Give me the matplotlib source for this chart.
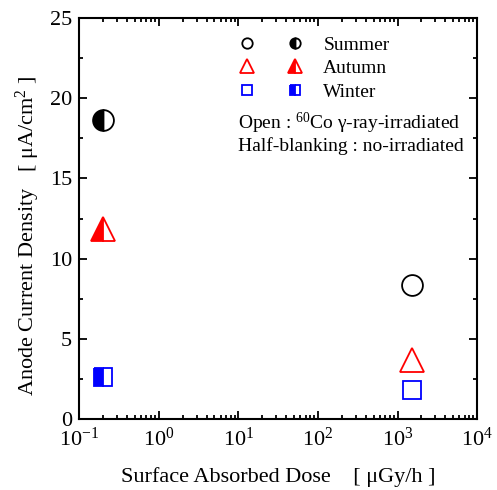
import matplotlib
matplotlib.use("Agg")
import matplotlib.pyplot as plt
from matplotlib.lines import Line2D
from matplotlib.legend_handler import HandlerTuple
from matplotlib.ticker import LogLocator, MultipleLocator, NullFormatter

plt.rcParams['font.family'] = ['Liberation Serif', 'DejaVu Serif']
plt.rcParams['mathtext.fontset'] = 'custom'
plt.rcParams['mathtext.rm'] = 'Liberation Serif'
plt.rcParams['mathtext.it'] = 'Liberation Serif:italic'
plt.rcParams['mathtext.bf'] = 'Liberation Serif:bold'

seasons = ["Summer", "Autumn", "Winter"]
colors = ["black", "red", "blue"]
markers = ["o", "^", "s"]
sizes = [15, 17.5, 13.5]
legend_sizes = [7.5, 9.5, 7]

# no-irradiated (half-blanking) points
dose_no = [0.2, 0.2, 0.2]
current_no = [18.65, 11.85, 2.6]
# 60Co gamma-ray irradiated (open) points
dose_irr = [1500, 1500, 1500]
current_irr = [8.35, 3.7, 1.8]

fig = plt.figure(figsize=(4.97, 4.90), dpi=100)
ax = fig.add_axes([0.159, 0.145, 0.801, 0.818])

handles = []
for i in range(3):
    ax.plot(dose_no[i], current_no[i], marker=markers[i], ms=sizes[i],
            mec=colors[i], mfc=colors[i], mfcalt='white', fillstyle='left',
            mew=1.3, ls='none')
    ax.plot(dose_irr[i], current_irr[i], marker=markers[i], ms=sizes[i],
            mec=colors[i], mfc='none', mew=1.3, ls='none')
    h_open = Line2D([], [], marker=markers[i], ms=legend_sizes[i], mec=colors[i],
                    mfc='none', mew=1.3, ls='none')
    h_half = Line2D([], [], marker=markers[i], ms=legend_sizes[i], mec=colors[i],
                    mfc=colors[i], mfcalt='white', fillstyle='left', mew=1.3, ls='none')
    handles.append((h_open, h_half))

ax.legend(handles, seasons, handler_map={tuple: HandlerTuple(ndivide=None, pad=0)},
          loc='upper left', bbox_to_anchor=(0.362, 0.955), frameon=False,
          fontsize=14, handlelength=4.95, handletextpad=0.2, labelspacing=0.3,
          borderpad=0, borderaxespad=0)

ax.text(0.40, 0.738, "Open : $^{60}$Co γ-ray-irradiated", transform=ax.transAxes,
        fontsize=14, va='center', ha='left')
ax.text(0.40, 0.681, "Half-blanking : no-irradiated", transform=ax.transAxes,
        fontsize=14, va='center', ha='left')

ax.set_xscale('log')
ax.set_xlim(0.1, 1e4)
ax.set_ylim(0, 25)
ax.xaxis.set_major_locator(LogLocator(base=10, numticks=10))
ax.xaxis.set_minor_locator(LogLocator(base=10, subs=range(2, 10), numticks=50))
ax.xaxis.set_minor_formatter(NullFormatter())
ax.yaxis.set_major_locator(MultipleLocator(5))
ax.yaxis.set_minor_locator(MultipleLocator(2.5))

ax.tick_params(which='both', direction='in', top=True, right=True, width=1.3)
ax.tick_params(which='major', length=6, labelsize=16)
ax.tick_params(axis='x', which='major', pad=6)
ax.tick_params(axis='y', which='major', pad=5)
ax.tick_params(which='minor', length=3)
for s in ax.spines.values():
    s.set_linewidth(1.5)

ax.set_xlabel("Surface Absorbed Dose    [ μGy/h ]", fontsize=16)
ax.set_ylabel("Anode Current Density   [ μA/cm$^{2}$ ]", fontsize=16)
ax.xaxis.set_label_coords(0.501, -0.12)
ax.yaxis.set_label_coords(-0.093, 0.456)

fig.savefig("out.png", dpi=100)
